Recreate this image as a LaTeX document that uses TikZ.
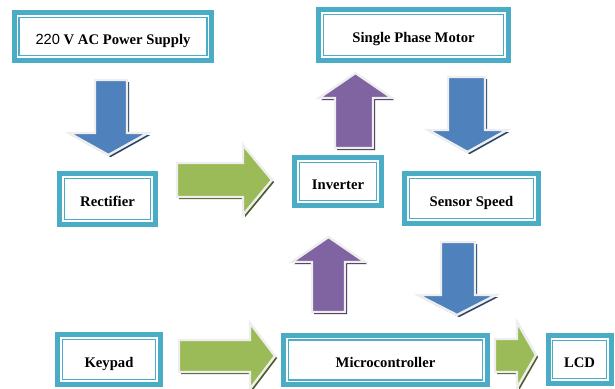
\documentclass[tikz,border=0pt]{standalone}
\usepackage{fontspec}
\setmainfont{Liberation Serif}
\newfontfamily\arialfont{Liberation Sans}
\usepackage{tikz}
\usetikzlibrary{shadows}

\definecolor{boxcyan}{HTML}{4BACC6}
\definecolor{arrowblue}{HTML}{4F81BD}
\definecolor{arrowpurple}{HTML}{8064A2}
\definecolor{arrowgreen}{HTML}{9BBB59}
\definecolor{glowgray}{HTML}{EEEEEE}

\tikzset{
  unitbox/.style={draw=boxcyan, line width=3.75pt, fill=white, inner sep=0pt,
    font=\bfseries\fontsize{11}{13}\selectfont, text height=13.5pt, text depth=2pt,
    path picture={\draw[boxcyan, line width=1pt]
      ([shift={(3.6pt,3.6pt)}]path picture bounding box.south west) rectangle
      ([shift={(-3.6pt,-3.6pt)}]path picture bounding box.north east);}},
  blockarrow/.style={draw=glowgray, line width=1.8pt, line join=miter},
  bluearrow/.style={blockarrow, fill=arrowblue,
    drop shadow={shadow xshift=1.6pt, shadow yshift=-1.6pt, fill=arrowblue!55!black, opacity=1}},
  purplearrow/.style={blockarrow, fill=arrowpurple,
    drop shadow={shadow xshift=1.6pt, shadow yshift=-1.6pt, fill=arrowpurple!50!black, opacity=1}},
  greenarrow/.style={blockarrow, fill=arrowgreen,
    drop shadow={shadow xshift=1.6pt, shadow yshift=-1.6pt, fill=arrowgreen!50!black, opacity=1}}
}

\begin{document}
\begin{tikzpicture}[x=0.75pt, y=-0.75pt]
    \useasboundingbox (0,0) rectangle (615,389);

    % Blocks
    \node[unitbox, minimum width=148pt, minimum height=36pt] (supply) at (113,36.5)
        {{\arialfont\mdseries 220} V AC Power Supply};
    \node[unitbox, minimum width=142.5pt, minimum height=38.25pt] (motor) at (413.5,35) {Single Phase Motor};
    \node[unitbox, minimum width=72pt, minimum height=38.25pt] (rectifier) at (107.5,199) {Rectifier};
    \node[unitbox, minimum width=65.25pt, minimum height=36pt] (inverter) at (338,181.5) {Inverter};
    \node[unitbox, minimum width=100.5pt, minimum height=37.5pt] (sensor) at (471.5,198.5) {Sensor Speed};
    \node[unitbox, minimum width=77.25pt, minimum height=37.5pt] (keypad) at (109,359.5) {Keypad};
    \node[unitbox, minimum width=153pt, minimum height=37pt] (micro) at (385.5,360) {Microcontroller};
    \node[unitbox, minimum width=47.25pt, minimum height=36pt] (lcd) at (579.5,359.5) {LCD};

    % Down arrows (blue)
    \draw[bluearrow] (95,80) -- (127,80) -- (127,133) -- (148,133) -- (108.5,155)
        -- (69,133) -- (95,133) -- cycle;
    \draw[bluearrow] (448,77) -- (485,77) -- (485,130) -- (507,130) -- (467.5,152)
        -- (428,130) -- (448,130) -- cycle;
    \draw[bluearrow] (441,242) -- (475,242) -- (475,295) -- (496,295) -- (457,315)
        -- (418,295) -- (441,295) -- cycle;

    % Up arrows (purple)
    \draw[purplearrow] (335,148) -- (373,148) -- (373,98) -- (392,98) -- (355.5,73)
        -- (319,98) -- (335,98) -- cycle;
    \draw[purplearrow] (312,312) -- (345,312) -- (345,262) -- (365,262) -- (328.5,237)
        -- (292,262) -- (312,262) -- cycle;

    % Right arrows (green)
    \draw[greenarrow] (177,163) -- (243,163) -- (243,145) -- (272,180) -- (243,215)
        -- (243,197) -- (177,197) -- cycle;
    \draw[greenarrow] (179,340) -- (250,340) -- (250,323) -- (275,356) -- (250,389)
        -- (250,372) -- (179,372) -- cycle;
    \draw[greenarrow] (495,339) -- (517,339) -- (517,322) -- (536,355) -- (517,388)
        -- (517,372) -- (495,372) -- cycle;
\end{tikzpicture}
\end{document}
